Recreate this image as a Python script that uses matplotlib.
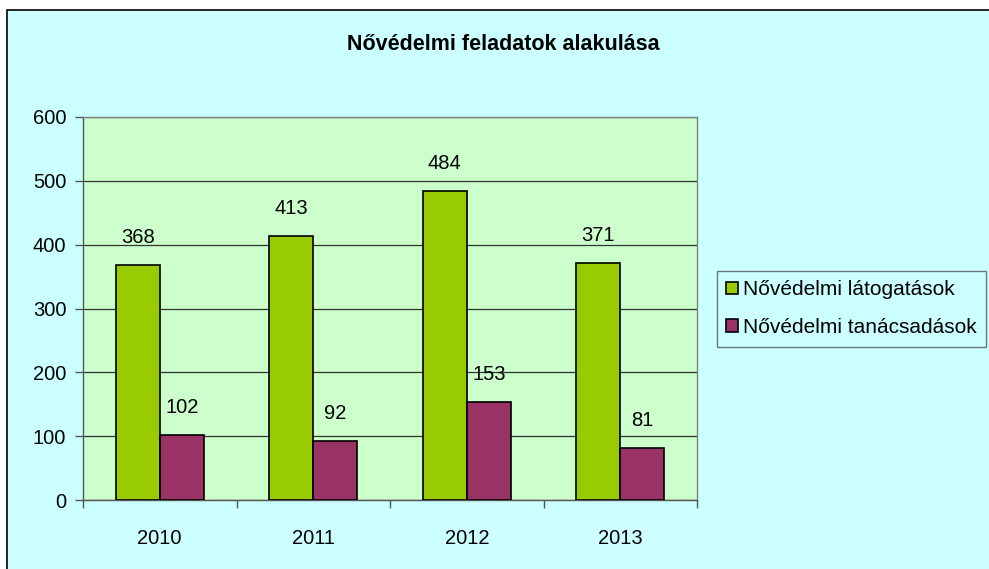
import matplotlib.pyplot as plt
import matplotlib.patches as mpatches
import numpy as np

plt.rcParams['font.family'] = ['Liberation Sans', 'DejaVu Sans']

# chart data
years = ['2010', '2011', '2012', '2013']
latogatasok = [368, 413, 484, 371]
tanacsadasok = [102, 92, 153, 81]
series_names = ['Nővédelmi látogatások', 'Nővédelmi tanácsadások']
title = 'Nővédelmi feladatok alakulása'

fig = plt.figure(figsize=(9.89, 5.69), dpi=100)
fig.patch.set_facecolor('white')

# outer chart area with black border, drawn in a background axes
bgax = fig.add_axes([0, 0, 1, 1], zorder=-1)
bgax.set_xlim(0, 989)
bgax.set_ylim(569, 0)
bgax.axis('off')
bgax.add_patch(mpatches.Rectangle((7, 10), 1000, 600, facecolor='#CCFFFF',
                                  edgecolor='black', linewidth=1.2))

ax = fig.add_axes([83 / 989, 1 - 500 / 569, 614 / 989, 383 / 569])
ax.set_facecolor('#CCFFCC')

x = np.arange(len(years))
w = 0.287
b1 = ax.bar(x - w / 2, latogatasok, w, color='#99CC00', edgecolor='black',
            linewidth=1.2, label=series_names[0], zorder=3)
b2 = ax.bar(x + w / 2, tanacsadasok, w, color='#993366', edgecolor='black',
            linewidth=1.2, label=series_names[1], zorder=3)

for bars in (b1, b2):
    for r in bars:
        ax.annotate(str(int(r.get_height())),
                    (r.get_x() + r.get_width() / 2, r.get_height()),
                    xytext=(0, 13), textcoords='offset points',
                    ha='center', va='bottom', fontsize=14.5)

ax.set_xlim(-0.5, len(years) - 0.5)
ax.set_ylim(0, 600)
ax.set_yticks(range(0, 601, 100))
ax.yaxis.grid(True, color='#333333', linewidth=0.9, zorder=1)
ax.set_axisbelow(True)

ax.set_xticks(x)
ax.set_xticklabels(years, fontsize=14.5)
ax.set_xticks(np.arange(-0.5, len(years)), minor=True)
ax.tick_params(axis='x', which='major', length=0, pad=21)
ax.tick_params(axis='x', which='minor', length=6, color='#555555', width=1)
ax.tick_params(axis='y', length=6, color='#555555', width=1, labelsize=14.5, pad=6)

for s in ax.spines.values():
    s.set_color('#808080')
    s.set_linewidth(1)
ax.spines['left'].set_color('#555555')
ax.spines['bottom'].set_color('#555555')

fig.text(503 / 989, 1 - 45 / 569, title, ha='center',
         va='center', fontsize=15.5, fontweight='bold')

handles = [mpatches.Patch(facecolor='#99CC00', edgecolor='black', linewidth=1.2),
           mpatches.Patch(facecolor='#993366', edgecolor='black', linewidth=1.2)]
leg = fig.legend(handles, series_names, loc='upper left',
                 bbox_to_anchor=(717 / 989, 1 - 271 / 569), fontsize=15,
                 frameon=True, fancybox=False, handlelength=0.55,
                 handleheight=0.55, handletextpad=0.25, labelspacing=0.9,
                 borderpad=0.45, borderaxespad=0)
leg.get_frame().set_facecolor('#CCFFFF')
leg.get_frame().set_edgecolor('#555555')
leg.get_frame().set_linewidth(1)

fig.savefig('out.png', dpi=100, facecolor=fig.get_facecolor())
